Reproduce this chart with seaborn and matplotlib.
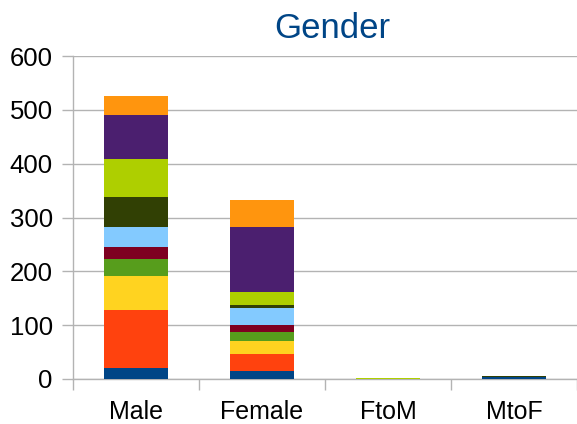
import matplotlib
matplotlib.use("Agg")
import matplotlib.pyplot as plt
import numpy as np
import seaborn as sns

# Data (stack order bottom -> top)
categories = ["Male", "Female", "FtoM", "MtoF"]
series_names = ["S1", "S2", "S3", "S4", "S5", "S6", "S7", "S8", "S9", "S10"]
s1 = [20, 14, 0, 3]
s2 = [109, 33, 0, 0]
s3 = [63, 23, 0, 0]
s4 = [30, 18, 0, 0]
s5 = [24, 13, 0, 0]
s6 = [37, 30, 0, 0]
s7 = [56, 7, 0, 2]
s8 = [70, 24, 2, 0]
s9 = [82, 121, 0, 0]
s10 = [34, 50, 0, 0]
series_values = [s1, s2, s3, s4, s5, s6, s7, s8, s9, s10]

colors = ["#004586", "#ff420e", "#ffd320", "#579d1c", "#7e0021",
          "#83caff", "#314004", "#aecf00", "#4b1f6f", "#ff950e"]

GRID = "#b3b3b3"

sns.set_style("white")
plt.rcParams["font.family"] = ["Liberation Sans", "DejaVu Sans"]

fig = plt.figure(figsize=(5.77, 4.24), dpi=100)
ax = fig.add_axes([73 / 577, 1 - 379 / 424, 504 / 577, 323 / 424])

bottom = np.zeros(len(categories))
for name, vals, c in zip(series_names, series_values, colors):
    sns.barplot(x=categories, y=vals, bottom=bottom, color=c, saturation=1,
                width=0.51, linewidth=0, ax=ax, zorder=3)
    bottom += np.array(vals)

ax.set_xlim(-0.5, 3.5)
ax.set_ylim(0, 600)
ax.set_yticks(range(0, 601, 100))
ax.yaxis.grid(True, color=GRID, linewidth=1, zorder=0)
ax.set_axisbelow(True)

for side in ["top", "right"]:
    ax.spines[side].set_visible(False)
for side in ["left", "bottom"]:
    ax.spines[side].set_color(GRID)
    ax.spines[side].set_linewidth(1)

ax.tick_params(axis="y", length=8, color=GRID, width=1, pad=6.5,
               labelsize=18.5, labelcolor="black", left=True)
ax.set_xticks(range(len(categories)))
ax.set_xticklabels(categories)
ax.set_xticks(np.arange(-0.5, 4.0, 1.0), minor=True)
ax.tick_params(axis="x", which="major", length=0, pad=15, labelsize=18,
               labelcolor="black")
ax.tick_params(axis="x", which="minor", length=8, color=GRID, width=1,
               bottom=True)
ax.set_xlabel("")
ax.set_ylabel("")

fig.text(332 / 577, 1 - 38 / 424, "Gender", color="#004586", fontsize=25,
         ha="center", va="baseline")

fig.savefig("out.png", dpi=100)
